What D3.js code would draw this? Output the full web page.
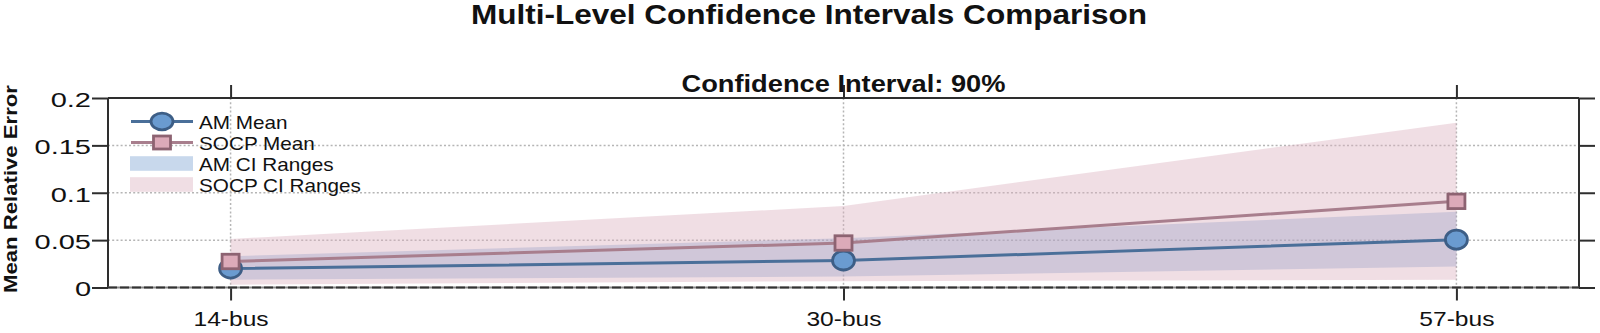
<!DOCTYPE html>
<html>
<head>
<meta charset="utf-8">
<script src="https://cdn.jsdelivr.net/npm/d3@7"></script>
<style>
  body { margin: 0; background: #fff; }
  text { font-family: "Liberation Sans", Arial, sans-serif; fill: #111; }
</style>
</head>
<body>
<div id="chart"></div>
<script>
// data
const categories = ["14-bus", "30-bus", "57-bus"];
const amMean = [0.020, 0.0285, 0.0505];
const socpMean = [0.0275, 0.047, 0.091];
const amLow = [0.0082, 0.0116, 0.0222];
const amHigh = [0.033, 0.052, 0.080];
const socpLow = [0.003, 0.0067, 0.0081];
const socpHigh = [0.0513, 0.086, 0.174];
const yTicks = [0, 0.05, 0.1, 0.15, 0.2];
const legendLabels = ["AM Mean", "SOCP Mean", "AM CI Ranges", "SOCP CI Ranges"];

const W = 1600, H = 333;
const margin = { top: 98, right: 21, bottom: 45.5, left: 108 },
  width = W - margin.left - margin.right,
  height = H - margin.top - margin.bottom;

const svgRoot = d3.select("#chart").append("svg")
  .attr("width", W).attr("height", H);

// stretch text horizontally to match the reference's wide glyphs
function stretch(sel, k) {
  sel.each(function () {
    const w = this.getComputedTextLength();
    d3.select(this).attr("textLength", w * k).attr("lengthAdjust", "spacingAndGlyphs");
  });
}

svgRoot.append("text")
  .attr("x", 809).attr("y", 24)
  .attr("text-anchor", "middle")
  .style("font-size", "28px").style("font-weight", "bold")
  .text("Multi-Level Confidence Intervals Comparison")
  .attr("textLength", 676).attr("lengthAdjust", "spacingAndGlyphs");

const svg = svgRoot.append("g")
  .attr("transform", `translate(${margin.left},${margin.top})`);

const x = d3.scaleLinear().domain([-0.2, 2.2]).range([0, width]);
const y = d3.scaleLinear().domain([0, 0.2]).range([height, 0]);
const idx = d3.range(categories.length);

// grid
const grid = svg.append("g").attr("stroke", "#b5b5b5").attr("stroke-width", 1.5)
  .attr("stroke-dasharray", "2,2.2");
grid.selectAll(".gy").data([0.05, 0.1, 0.15]).enter().append("line")
  .attr("x1", 0).attr("x2", width).attr("y1", d => y(d)).attr("y2", d => y(d));
grid.selectAll(".gx").data(idx).enter().append("line")
  .attr("x1", d => x(d)).attr("x2", d => x(d)).attr("y1", 0).attr("y2", height);

// CI bands
const band = (lo, hi) => d3.area()
  .x(i => x(i)).y0(i => y(lo[i])).y1(i => y(hi[i]));
svg.append("path").datum(idx)
  .attr("d", band(amLow, amHigh))
  .attr("fill", "rgb(98,144,201)").attr("fill-opacity", 0.35);
svg.append("path").datum(idx)
  .attr("d", band(socpLow, socpHigh))
  .attr("fill", "rgb(219,176,191)").attr("fill-opacity", 0.42);

const amLine = "#4a6f99", amFill = "#6a9bd0", amEdge = "#3d5e86";
const socpLine = "#a87e8d", socpFill = "#dcaab9", socpEdge = "#8d6372";

const line = vals => d3.line().x(i => x(i)).y(i => y(vals[i]));
svg.append("path").datum(idx).attr("d", line(amMean))
  .attr("fill", "none").attr("stroke", amLine).attr("stroke-width", 3);
svg.selectAll(".amPt").data(idx).enter().append("ellipse")
  .attr("cx", i => x(i)).attr("cy", i => y(amMean[i]))
  .attr("rx", 11).attr("ry", 9.5)
  .attr("fill", amFill).attr("stroke", amEdge).attr("stroke-width", 2.8);

svg.append("path").datum(idx).attr("d", line(socpMean))
  .attr("fill", "none").attr("stroke", socpLine).attr("stroke-width", 3);
svg.selectAll(".socpPt").data(idx).enter().append("rect")
  .attr("x", i => x(i) - 8.5).attr("y", i => y(socpMean[i]) - 7.2)
  .attr("width", 17).attr("height", 14.5)
  .attr("fill", socpFill).attr("stroke", socpEdge).attr("stroke-width", 2.8);

// axes (ticks only, spines drawn below)
const yFmt = d => d === 0 ? "0" : String(d);
const gl = svg.append("g").call(d3.axisLeft(y).tickValues(yTicks).tickFormat(yFmt).tickSize(16).tickPadding(1));
const gr = svg.append("g").attr("transform", `translate(${width},0)`)
  .call(d3.axisRight(y).tickValues(yTicks).tickFormat("").tickSize(16));
const gb = svg.append("g").attr("transform", `translate(0,${height})`)
  .call(d3.axisBottom(x).tickValues(idx).tickFormat(i => categories[i]).tickSize(13).tickPadding(11));
const gt = svg.append("g")
  .call(d3.axisTop(x).tickValues(idx).tickFormat("").tickSize(13));
[gl, gr, gb, gt].forEach(g => {
  g.select(".domain").remove();
  g.selectAll("line").attr("stroke", "#2e2e2e").attr("stroke-width", 2);
});
gl.selectAll("text").attr("dy", "0.42em").style("font-size", "20px").attr("fill", "#222")
  .call(stretch, 1.45);
gb.selectAll("text").style("font-size", "21px").attr("fill", "#222")
  .call(stretch, 1.17);

// spines
const sp = svg.append("g").attr("fill", "none").attr("stroke", "#2e2e2e").attr("stroke-width", 2);
sp.append("line").attr("x1", 0).attr("x2", 0).attr("y1", 0).attr("y2", height);
sp.append("line").attr("x1", width).attr("x2", width).attr("y1", 0).attr("y2", height);
sp.append("line").attr("x1", 0).attr("x2", width).attr("y1", 0).attr("y2", 0);
sp.append("line").attr("x1", 0).attr("x2", width).attr("y1", height).attr("y2", height)
  .attr("stroke", "#8a8a8a");
sp.append("line").attr("x1", 0).attr("x2", width).attr("y1", height).attr("y2", height)
  .attr("stroke", "#333").attr("stroke-dasharray", "9,3");

// subplot title
svg.append("text")
  .attr("x", width / 2).attr("y", -6)
  .attr("text-anchor", "middle")
  .style("font-size", "23px").style("font-weight", "bold")
  .text("Confidence Interval: 90%")
  .attr("textLength", 324).attr("lengthAdjust", "spacingAndGlyphs");

// y label
svgRoot.append("text")
  .attr("transform", "translate(17,189) rotate(-90)")
  .attr("text-anchor", "middle")
  .style("font-size", "19px").style("font-weight", "bold")
  .text("Mean Relative Error")
  .attr("textLength", 208).attr("lengthAdjust", "spacingAndGlyphs");

// legend
const lg = svgRoot.append("g");
const rowY = [121.5, 142.5, 163.5, 184.5];
const hx0 = 131, hx1 = 193, hxm = 162;
lg.append("line").attr("x1", hx0).attr("x2", hx1).attr("y1", rowY[0]).attr("y2", rowY[0])
  .attr("stroke", amLine).attr("stroke-width", 3);
lg.append("ellipse").attr("cx", hxm).attr("cy", rowY[0]).attr("rx", 11).attr("ry", 8.3)
  .attr("fill", amFill).attr("stroke", amEdge).attr("stroke-width", 2.8);
lg.append("line").attr("x1", hx0).attr("x2", hx1).attr("y1", rowY[1]).attr("y2", rowY[1])
  .attr("stroke", socpLine).attr("stroke-width", 3);
lg.append("rect").attr("x", hxm - 8.5).attr("y", rowY[1] - 6.5).attr("width", 17).attr("height", 13)
  .attr("fill", socpFill).attr("stroke", socpEdge).attr("stroke-width", 2.8);
lg.append("rect").attr("x", hx0 - 1).attr("y", rowY[2] - 7.3).attr("width", hx1 - hx0 + 1).attr("height", 14.6)
  .attr("fill", "rgb(98,144,201)").attr("fill-opacity", 0.35);
lg.append("rect").attr("x", hx0 - 1).attr("y", rowY[3] - 7.3).attr("width", hx1 - hx0 + 1).attr("height", 14.6)
  .attr("fill", "rgb(219,176,191)").attr("fill-opacity", 0.42);
lg.selectAll(".lt").data(legendLabels).enter().append("text")
  .attr("x", 199).attr("y", (d, i) => rowY[i] + 7)
  .style("font-size", "19px").attr("fill", "#222")
  .text(d => d)
  .call(stretch, 1.09);
</script>
</body>
</html>
